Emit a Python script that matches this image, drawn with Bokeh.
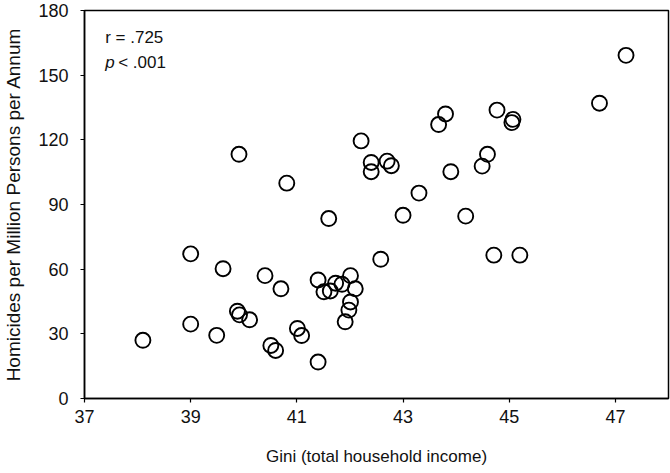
from bokeh.plotting import figure
from bokeh.models import Range1d, FixedTicker, Label
from bokeh.embed import file_html
from bokeh.resources import INLINE

# Gini (total household income) per state
gini = [38.10, 39.00, 39.00, 39.49, 39.61, 39.88, 39.92, 40.11, 40.40, 40.51,
        40.60, 40.70, 41.01, 41.09, 41.40, 41.40, 41.51, 41.63, 41.73, 41.85,
        42.01, 42.10, 42.01, 41.98, 41.91, 42.58, 44.71, 45.20, 39.91, 40.81,
        41.60, 42.21, 42.40, 42.40, 42.70, 42.78, 43.00, 43.30, 43.90, 44.18,
        43.67, 43.80, 44.49, 44.59, 44.77, 45.05, 45.07, 46.70, 47.20]
# Homicides per million persons per annum
homicides = [27.0, 67.1, 34.5, 29.3, 60.2, 40.5, 38.8, 36.5, 57.0, 24.6,
             22.3, 50.9, 32.5, 29.2, 16.9, 55.0, 49.5, 49.9, 53.5, 53.0,
             57.0, 50.9, 44.8, 41.0, 35.6, 64.6, 66.5, 66.5, 113.3, 99.9,
             83.5, 119.5, 109.5, 105.2, 110.1, 108.0, 85.0, 95.3, 105.2, 84.6,
             127.1, 132.0, 107.8, 113.3, 133.8, 128.0, 129.5, 137.0, 159.2]

x_ticks = [37, 39, 41, 43, 45, 47]
y_ticks = [0, 30, 60, 90, 120, 150, 180]

FONT = "Liberation Sans"

p = figure(width=670, height=473, output_backend="svg", toolbar_location=None,
           x_range=Range1d(37, 48), y_range=Range1d(0, 180),
           min_border_left=80, min_border_right=2, min_border_top=10,
           min_border_bottom=75)

p.scatter(gini, homicides, marker="circle", size=15, fill_alpha=0,
          line_color="black", line_width=1.9)

p.xgrid.visible = False
p.ygrid.visible = False
p.outline_line_color = "black"
p.outline_line_width = 1.5
p.outline_line_alpha = 1

for ax in (p.xaxis[0], p.yaxis[0]):
    ax.axis_line_width = 1.5
    ax.axis_line_color = "black"
    ax.major_tick_line_color = "black"
    ax.major_tick_line_width = 1.2
    ax.major_tick_out = 4
    ax.major_tick_in = 0
    ax.minor_tick_line_color = None
    ax.major_label_text_font = FONT
    ax.major_label_text_font_size = "18px"
    ax.major_label_text_color = "#111111"
    ax.axis_label_text_font = FONT
    ax.axis_label_text_font_style = "normal"
    ax.axis_label_text_color = "#111111"

p.xaxis[0].ticker = FixedTicker(ticks=x_ticks)
p.yaxis[0].ticker = FixedTicker(ticks=y_ticks)
p.xaxis[0].axis_label = "Gini (total household income)"
p.yaxis[0].axis_label = "Homicides per Million Persons per Annum"
p.xaxis[0].axis_label_text_font_size = "17px"
p.yaxis[0].axis_label_text_font_size = "19px"
p.xaxis[0].major_label_standoff = 7
p.xaxis[0].axis_label_standoff = 21
p.yaxis[0].major_label_standoff = 12
p.yaxis[0].axis_label_standoff = 11

p.add_layout(Label(x=37.39, y=167.5, text="r = .725", text_font=FONT,
                   text_font_size="17px", text_baseline="middle",
                   text_color="#111111"))
p.add_layout(Label(x=37.39, y=155.9, text="p", text_font=FONT,
                   text_font_size="17px", text_font_style="italic",
                   text_baseline="middle", text_color="#111111"))
p.add_layout(Label(x=37.39, y=155.9, x_offset=13, text="< .001", text_font=FONT,
                   text_font_size="17px", text_baseline="middle",
                   text_color="#111111"))

open("out.html", "w").write(file_html(p, INLINE))
